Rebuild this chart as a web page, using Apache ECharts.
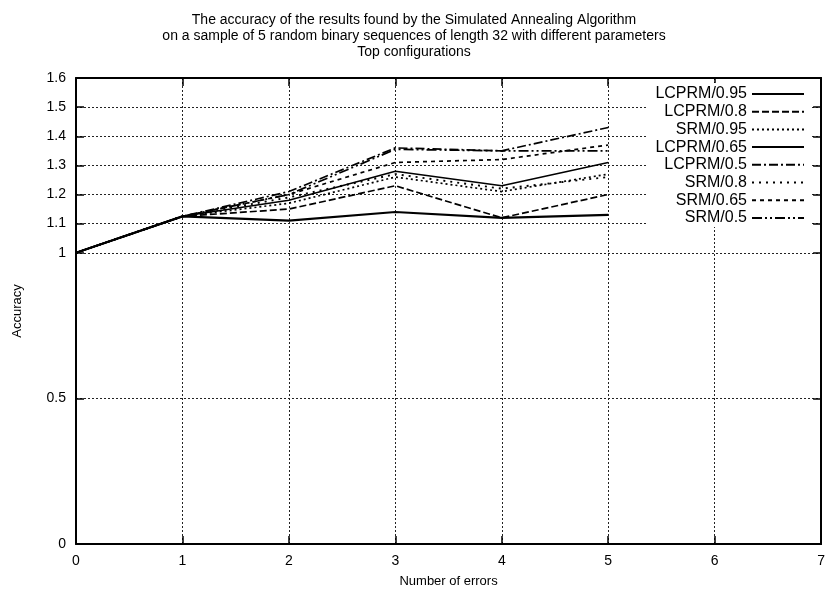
<!DOCTYPE html>
<html>
<head>
<meta charset="utf-8">
<script src="https://cdn.jsdelivr.net/npm/echarts@6/dist/echarts.min.js"></script>
<style>
  html, body { margin: 0; padding: 0; background: #fff; }
  #chart { width: 828px; height: 593px; }
</style>
</head>
<body>
<div id="chart"></div>
<script>
// Number of errors on the x axis
const errors = [0, 1, 2, 3, 4, 5];

// Accuracy per configuration
const lcprm095 = [1, 1.125, 1.11, 1.14, 1.12, 1.13];
const lcprm08  = [1, 1.125, 1.15, 1.23, 1.12, 1.2];
const srm095   = [1, 1.125, 1.17, 1.26, 1.21, 1.27];
const lcprm065 = [1, 1.125, 1.18, 1.28, 1.23, 1.31];
const lcprm05  = [1, 1.125, 1.21, 1.36, 1.35, 1.43];
const srm08    = [1, 1.125, 1.19, 1.27, 1.22, 1.26];
const srm065   = [1, 1.125, 1.2, 1.31, 1.32, 1.37];
const srm05    = [1, 1.125, 1.2, 1.355, 1.35, 1.35];

const seriesNames = ['LCPRM/0.95', 'LCPRM/0.8', 'SRM/0.95', 'LCPRM/0.65',
                     'LCPRM/0.5', 'SRM/0.8', 'SRM/0.65', 'SRM/0.5'];
const seriesValues = [lcprm095, lcprm08, srm095, lcprm065, lcprm05, srm08, srm065, srm05];

// Tick labels
const yTicks = [0, 0.5, 1, 1.1, 1.2, 1.3, 1.4, 1.5, 1.6];
const xTicks = [0, 1, 2, 3, 4, 5, 6, 7];

const titleLines = [
  'The accuracy of the results found by the Simulated Annealing Algorithm',
  'on a sample of 5 random binary sequences of length 32 with different parameters',
  'Top configurations'
];

const FONT = '"Liberation Sans", Arial, Helvetica, sans-serif';

// Line styles, one per series
const styles = [
  { type: 'solid', width: 2.2 },
  { type: [7, 3], width: 1.7 },
  { type: [2, 3], width: 1.7 },
  { type: 'solid', width: 1.5 },
  { type: [9, 3, 2, 3], width: 1.7 },
  { type: [2, 5], width: 1.9 },
  { type: [4, 4], width: 1.7 },
  { type: [10, 3, 2, 3, 2, 3], width: 1.7 }
];

const chart = echarts.init(document.getElementById('chart'), null, { renderer: 'canvas' });

const gridLine = { show: true, lineStyle: { color: '#222', type: [2, 2], width: 1 } };
const frameLine = { show: true, onZero: false, lineStyle: { color: '#000', width: 2 } };
const tickIn = { show: true, inside: true, length: 8, lineStyle: { color: '#000', width: 1.5 } };

chart.setOption({
  animation: false,
  backgroundColor: '#fff',
  title: {
    text: titleLines.join('\n'),
    left: 'center',
    top: 7,
    textStyle: { fontFamily: FONT, fontSize: 14, fontWeight: 'normal', color: '#000', lineHeight: 16 }
  },
  legend: {
    orient: 'vertical',
    right: 17,
    top: 83,
    itemGap: 1.7,
    itemWidth: 52,
    itemHeight: 14,
    align: 'right',
    backgroundColor: '#fff',
    padding: [3, 6, 1, 4],
    data: seriesNames,
    itemStyle: { opacity: 0 },
    formatter: name => '{t|' + name + '}',
    textStyle: {
      fontFamily: FONT,
      color: '#000',
      rich: { t: { width: 95, align: 'right', fontSize: 16, lineHeight: 15, fontFamily: FONT, color: '#000' } }
    }
  },
  grid: { left: 76, right: 3, top: 78, bottom: 49, containLabel: false },
  xAxis: [
    {
      type: 'value', min: 0, max: 7, interval: 1, position: 'bottom',
      name: 'Number of errors', nameLocation: 'middle', nameGap: 31,
      nameTextStyle: { fontFamily: FONT, fontSize: 13, color: '#000' },
      axisLine: frameLine, axisTick: tickIn,
      axisLabel: { fontFamily: FONT, fontSize: 14, color: '#000', margin: 10,
                   customValues: xTicks },
      splitLine: gridLine
    },
    {
      type: 'value', min: 0, max: 7, interval: 1, position: 'top',
      axisLine: frameLine, axisTick: tickIn, axisLabel: { show: false }, splitLine: { show: false }
    }
  ],
  yAxis: [
    {
      type: 'value', min: 0, max: 1.6, position: 'left',
      name: 'Accuracy', nameLocation: 'middle', nameGap: 52, nameRotate: 90,
      nameTextStyle: { fontFamily: FONT, fontSize: 13, color: '#000' },
      axisLine: frameLine,
      axisTick: Object.assign({}, tickIn, { customValues: yTicks }),
      axisLabel: { fontFamily: FONT, fontSize: 14, color: '#000', margin: 10,
                   customValues: yTicks, formatter: v => String(+v.toFixed(2)) },
      splitLine: gridLine
    },
    {
      type: 'value', min: 0, max: 1.6, position: 'right',
      axisLine: frameLine,
      axisTick: Object.assign({}, tickIn, { customValues: yTicks }),
      axisLabel: { show: false, customValues: yTicks }, splitLine: { show: false }
    }
  ],
  series: seriesNames.map((name, i) => ({
    name: name,
    type: 'line',
    xAxisIndex: 0,
    yAxisIndex: 0,
    showSymbol: false,
    symbol: 'none',
    z: 3,
    color: '#000',
    lineStyle: { color: '#000', type: styles[i].type, width: styles[i].width },
    data: errors.map((x, j) => [x, seriesValues[i][j]])
  }))
});
</script>
</body>
</html>
